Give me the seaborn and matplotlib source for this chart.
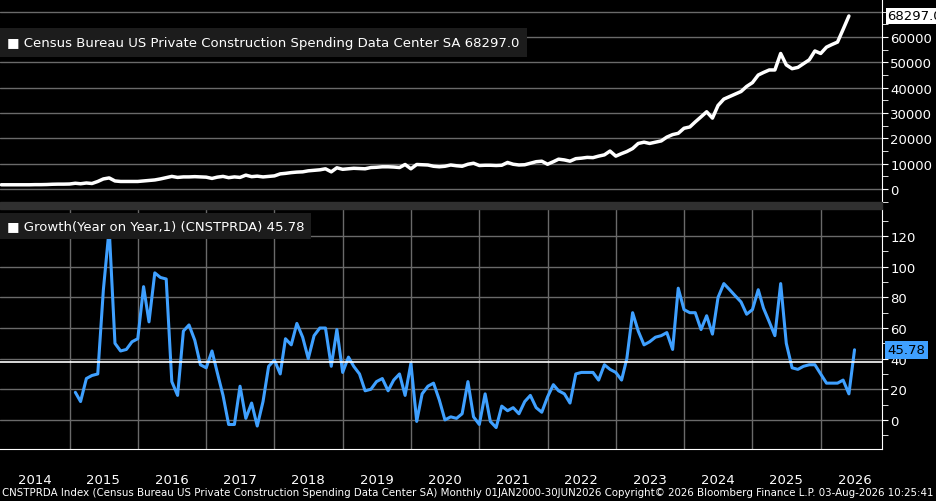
import matplotlib
matplotlib.use("Agg")
import matplotlib.pyplot as plt
from matplotlib.ticker import MultipleLocator
import seaborn as sns
import pandas as pd

# monthly levels, Jan 2014 - Jun 2026 (USD mn, SAAR)
level = [
    1700, 1700, 1700, 1700, 1700, 1700, 1750, 1750, 1800, 1900, 1950, 1950,
    2000, 2300, 2100, 2400, 2200, 3000, 4000, 4400, 3200, 3000, 3000, 3000,
    3000, 3200, 3400, 3600, 4000, 4500, 5000, 4600, 4800, 4800, 4900, 4800,
    4700, 4200, 4700, 5000, 4500, 4800, 4600, 5500, 4900, 5100, 4800, 5000,
    5200, 6000, 6200, 6500, 6700, 6800, 7200, 7400, 7600, 8000, 6800, 8400,
    7800, 8000, 8200, 8100, 8000, 8500, 8600, 8800, 8800, 8700, 8500, 9700,
    8000, 9700, 9600, 9500, 9000, 8800, 9000, 9500, 9200, 9000, 9800, 10200,
    9300, 9400, 9400, 9300, 9400, 10500, 9800, 9500, 9600, 10200, 10800, 11000,
    9800, 10800, 11800, 11500, 11000, 12000, 12200, 12500, 12400, 13000, 13500, 15000,
    13000, 14000, 14800, 16000, 18000, 18500, 18000, 18500, 19000, 20500, 21500, 22000,
    24000, 24500, 26500, 28500, 30500, 28000, 33000, 35500, 36500, 37500, 38500, 40500,
    42000, 45000, 46000, 47000, 47000, 53500, 49000, 47500, 48000, 49500, 51000, 54500,
    53500, 56000, 57000, 58000, 63000, 68297,
]

# year-on-year growth %, Feb 2015 - Jun 2026
growth = [
    18, 12, 27, 29, 30, 85, 125, 50, 45, 46, 51,
    53, 87, 64, 96, 93, 92, 25, 16, 58, 62, 52, 36,
    34, 45, 31, 16, -3, -3, 22, 1, 11, -4, 12, 35,
    39, 30, 53, 49, 63, 54, 40, 55, 60, 60, 35, 59,
    31, 41, 35, 30, 19, 20, 25, 27, 19, 26, 30, 16,
    37, -1, 17, 22, 24, 13, 0, 2, 1, 4, 25, 2,
    -3, 17, -1, -5, 9, 6, 8, 4, 12, 16, 8, 5,
    15, 23, 19, 17, 11, 30, 31, 31, 31, 26, 36, 33,
    31, 26, 40, 70, 58, 49, 51, 54, 55, 57, 46, 86,
    72, 70, 70, 59, 68, 56, 80, 89, 85, 81, 77, 69,
    72, 85, 73, 64, 55, 89, 50, 34, 33, 35, 36, 36,
    30, 24, 24, 24, 26, 17, 45.78,
]
growth_avg = 37.6
years = list(range(2014, 2027))

lvl_df = pd.DataFrame({"date": pd.date_range("2014-01-01", periods=len(level), freq="MS"), "value": level})
gr_df = pd.DataFrame({"date": pd.date_range("2015-02-01", periods=len(growth), freq="MS"), "value": growth})

sns.set_style("dark")
plt.rcParams["font.family"] = ["Liberation Sans Narrow", "DejaVu Sans"]
W, H = 937, 502
fig = plt.figure(figsize=(W / 100, H / 100), dpi=100, facecolor="black")


def box(t, b):
    return [0, 1 - b / H, 882 / W, (b - t) / H]


ax1 = fig.add_axes(box(0, 203))
ax2 = fig.add_axes(box(210, 450))
blue = "#3fa0ff"
fs = 9.5

xmin, xmax = pd.Timestamp("2013-12-25"), pd.Timestamp("2026-11-25")
for ax in (ax1, ax2):
    ax.set_facecolor("black")
    ax.set_xlim(xmin, xmax)
    ax.yaxis.tick_right()
    for s in ("top", "left", "bottom"):
        ax.spines[s].set_visible(False)
    ax.spines["right"].set_color("white")
    ax.tick_params(axis="y", which="both", colors="white", labelsize=fs, length=4, direction="out", pad=2)
    ax.grid(True, axis="y", color="#6a6a6a", lw=1)

sns.lineplot(data=lvl_df, x="date", y="value", ax=ax1, color="white", lw=2.5)
ax1.set_ylim(-5100, 75000)
ax1.yaxis.set_major_locator(MultipleLocator(10000))
ax1.yaxis.set_minor_locator(MultipleLocator(5000))
ax1.set_yticks(range(0, 60001, 10000))
ax1.axhline(70000, color="#6a6a6a", lw=1)
ax1.set_xticks([])
ax1.set_xlabel("")
ax1.set_ylabel("")
ax1.annotate(f"{level[-1]:.1f}", xy=(1.0, level[-1]), xycoords=("axes fraction", "data"),
             xytext=(4, 0), textcoords="offset points", ha="left", va="center", fontsize=fs,
             color="black", bbox=dict(boxstyle="square,pad=0.15", fc="white", ec="none"))
ax1.text(0.008, 0.785, "\u25A0 Census Bureau US Private Construction Spending Data Center SA 68297.0",
         transform=ax1.transAxes, color="white", fontsize=fs, va="center",
         bbox=dict(boxstyle="square,pad=0.6", fc="#1c1c1c", ec="none"))

sns.lineplot(data=gr_df, x="date", y="value", ax=ax2, color=blue, lw=2.2)
ax2.axhline(growth_avg, color="white", lw=1.2)
ax2.set_ylim(-19, 137.7)
ax2.yaxis.set_major_locator(MultipleLocator(20))
ax2.yaxis.set_minor_locator(MultipleLocator(10))
ax2.set_xlabel("")
ax2.set_ylabel("")
bounds = [pd.Timestamp(f"{y}-01-01") for y in years[1:]]
mids = [pd.Timestamp(f"{y}-07-01") for y in years]
ax2.set_xticks(bounds)
ax2.set_xticklabels([])
ax2.set_xticks(mids, minor=True)
ax2.set_xticklabels([str(y) for y in years], minor=True)
ax2.tick_params(axis="x", which="major", length=26, color="#888888", width=1)
ax2.tick_params(axis="x", which="minor", length=0, colors="white", labelsize=fs, pad=17)
ax2.spines["bottom"].set_visible(True)
ax2.spines["bottom"].set_color("white")
ax2.grid(True, axis="x", which="major", color="#6a6a6a", lw=1)
ax2.annotate(f"{growth[-1]:.2f}", xy=(1.0, growth[-1]), xycoords=("axes fraction", "data"),
             xytext=(4, 0), textcoords="offset points", ha="left", va="center", fontsize=fs,
             color="black", bbox=dict(boxstyle="square,pad=0.2", fc=blue, ec="none"))
ax2.text(0.008, 0.93, "\u25A0 Growth(Year on Year,1) (CNSTPRDA) 45.78",
         transform=ax2.transAxes, color="white", fontsize=fs, va="center",
         bbox=dict(boxstyle="square,pad=0.5", fc="#1c1c1c", ec="none"))

# separator band between panels
fig.patches.append(plt.Rectangle((0, 1 - 210 / H), 882 / W, 7 / H, transform=fig.transFigure,
                                 color="#303030", zorder=0))
fig.text(0.002, 9 / H, "CNSTPRDA Index (Census Bureau US Private Construction Spending Data Center SA) Monthly "
         "01JAN2000-30JUN2026 Copyright\u00a9 2026 Bloomberg Finance L.P. 03-Aug-2026 10:25:41",
         color="white", fontsize=7.4, va="center", ha="left")

fig.savefig("out.png", dpi=100, facecolor="black")
